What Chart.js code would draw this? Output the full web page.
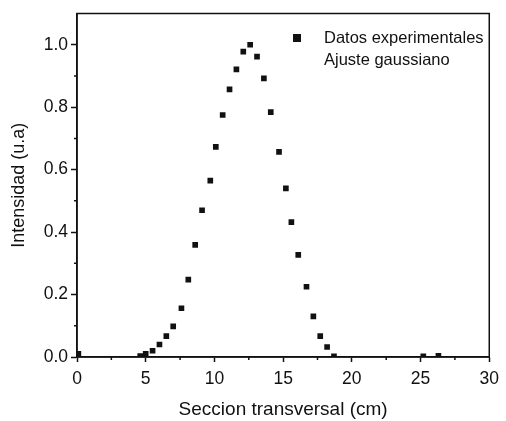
<!DOCTYPE html>
<html>
<head>
<meta charset="utf-8">
<script src="https://cdn.jsdelivr.net/npm/chart.js@4/dist/chart.umd.min.js"></script>
<style>
  html, body { margin: 0; padding: 0; background: #fff; }
  #wrap { width: 506px; height: 421px; }
</style>
</head>
<body>
<div id="wrap"><canvas id="chart" width="506" height="421"></canvas></div>
<script>
// Seccion transversal (cm)
const xValues = [0.1, 4.6, 5.0, 5.5, 6.0, 6.5, 7.0, 7.6, 8.1, 8.6, 9.1, 9.7, 10.1, 10.6, 11.1, 11.6, 12.1, 12.6,
                 13.1, 13.6, 14.1, 14.7, 15.2, 15.6, 16.1, 16.7, 17.2, 17.7, 18.2, 18.7, 25.2, 26.3];
// Intensidad (u.a)
const yValues = [0.01, 0.003, 0.01, 0.02, 0.04, 0.067, 0.098, 0.156, 0.248, 0.359, 0.47, 0.565, 0.673, 0.775, 0.857, 0.921, 0.978, 1.0,
                 0.962, 0.892, 0.784, 0.657, 0.54, 0.432, 0.327, 0.225, 0.13, 0.067, 0.032, 0.002, 0.002, 0.004];
const legendLabels = ['Datos experimentales', 'Ajuste gaussiano'];
const xTicks = [0, 5, 10, 15, 20, 25, 30];
const yTicks = [0.0, 0.2, 0.4, 0.6, 0.8, 1.0];
const xMinorTicks = [2.5, 7.5, 12.5, 17.5, 22.5, 27.5];
const yMinorTicks = [0.1, 0.3, 0.5, 0.7, 0.9];

const points = xValues.map((x, i) => ({ x: x, y: yValues[i] }));
const font = "'Liberation Sans', Arial, sans-serif";

// legend drawn inside the plot, top right
const insideLegend = {
    id: 'insideLegend',
    afterDraw(chart) {
        const ctx = chart.ctx;
        ctx.save();
        ctx.fillStyle = '#111';
        ctx.fillRect(293, 34, 8, 8);
        ctx.font = '16.5px ' + font;
        ctx.textBaseline = 'middle';
        ctx.fillText(legendLabels[0], 324, 38);
        ctx.fillText(legendLabels[1], 324, 60);
        ctx.restore();
    }
};

// frame around the plot area plus small minor ticks
const frame = {
    id: 'frame',
    afterDraw(chart) {
        const a = chart.chartArea;
        const ctx = chart.ctx;
        ctx.save();
        ctx.strokeStyle = '#111';
        ctx.lineWidth = 1.5;
        ctx.strokeRect(a.left, a.top, a.right - a.left, a.bottom - a.top);
        ctx.beginPath();
        xMinorTicks.forEach(v => {
            const px = chart.scales.x.getPixelForValue(v);
            ctx.moveTo(px, a.bottom);
            ctx.lineTo(px, a.bottom + 3);
        });
        yMinorTicks.forEach(v => {
            const py = chart.scales.y.getPixelForValue(v);
            ctx.moveTo(a.left, py);
            ctx.lineTo(a.left - 3, py);
        });
        ctx.stroke();
        ctx.restore();
    }
};

new Chart(document.getElementById('chart'), {
    type: 'scatter',
    data: {
        datasets: [{
            label: legendLabels[0],
            data: points,
            pointStyle: 'rect',
            pointRadius: 4,
            backgroundColor: '#111',
            borderColor: '#111',
            borderWidth: 0
        }]
    },
    options: {
        responsive: false,
        animation: false,
        layout: { padding: { top: 10, right: 16, left: 0, bottom: 0 } },
        plugins: {
            legend: { display: false },
            tooltip: { enabled: false }
        },
        scales: {
            x: {
                type: 'linear',
                min: 0,
                max: 30,
                afterBuildTicks: s => { s.ticks = xTicks.map(v => ({ value: v })); },
                afterFit: s => { s.height = 64; },
                ticks: {
                    color: '#111',
                    font: { family: font, size: 17.5 },
                    padding: 7,
                    maxRotation: 0
                },
                grid: { drawOnChartArea: false, color: '#111', tickLength: 5, tickWidth: 1.5 },
                border: { color: '#111', width: 1.5 },
                title: {
                    display: true,
                    text: 'Seccion transversal (cm)',
                    color: '#111',
                    font: { family: font, size: 19 },
                    padding: { top: 4, bottom: 0 }
                }
            },
            y: {
                type: 'linear',
                min: 0,
                max: 1.1,
                afterBuildTicks: s => { s.ticks = yTicks.map(v => ({ value: v })); },
                afterFit: s => { s.width = 77; },
                ticks: {
                    color: '#111',
                    font: { family: font, size: 17.5 },
                    padding: 3,
                    callback: v => v.toFixed(1)
                },
                grid: { drawOnChartArea: false, color: '#111', tickLength: 6, tickWidth: 1.5 },
                border: { color: '#111', width: 1.5 },
                title: {
                    display: true,
                    text: 'Intensidad (u.a)',
                    color: '#111',
                    font: { family: font, size: 18 },
                    padding: { top: 8, bottom: 0 }
                }
            }
        }
    },
    plugins: [frame, insideLegend]
});
</script>
</body>
</html>
